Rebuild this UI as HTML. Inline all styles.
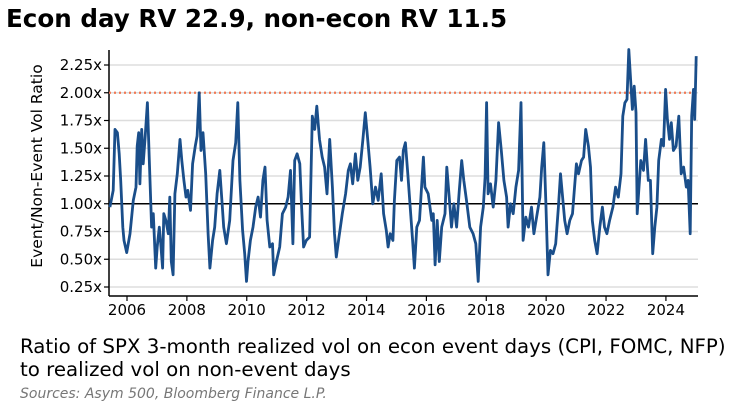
<!DOCTYPE html>
<html><head><meta charset="utf-8"><style>
body{margin:0;background:#fff;width:745px;height:409px;overflow:hidden;font-family:"Liberation Sans","DejaVu Sans",sans-serif}
</style></head><body>
<svg width="745" height="409" style="position:absolute;left:0;top:0">
<text x="6" y="27" font-size="24.6" font-weight="bold" fill="#000" font-family="DejaVu Sans, sans-serif">Econ day RV 22.9, non-econ RV 11.5</text>
<g id="grid"></g><g id="yax"></g><g id="xax"></g><g id="ref"></g><g id="series"></g>
<text transform="translate(42,166) rotate(-90)" text-anchor="middle" font-size="15.5" font-family="DejaVu Sans, sans-serif">Event/Non-Event Vol Ratio</text>
<text x="20" y="353" font-size="19.8" font-family="DejaVu Sans, sans-serif">Ratio of SPX 3-month realized vol on econ event days (CPI, FOMC, NFP)</text>
<text x="20" y="376" font-size="19.8" font-family="DejaVu Sans, sans-serif">to realized vol on non-event days</text>
<text x="20" y="398" font-size="14" font-style="italic" fill="#777" font-family="DejaVu Sans, sans-serif">Sources: Asym 500, Bloomberg Finance L.P.</text>
</svg>
<script>
const yTicks=[0.25,0.5,0.75,1.0,1.25,1.5,1.75,2.0,2.25];
const yTickLabels=["0.25x","0.50x","0.75x","1.00x","1.25x","1.50x","1.75x","2.00x","2.25x"];
const xTicks=[2006,2008,2010,2012,2014,2016,2018,2020,2022,2024];
const refLevel=1.0;
const thresholdLevel=2.0;
const dates=[2005.43,2005.54,2005.60,2005.68,2005.74,2005.79,2005.86,2005.90,2005.99,2006.10,2006.21,2006.30,2006.34,2006.39,2006.43,2006.49,2006.54,2006.60,2006.68,2006.74,2006.82,2006.88,2006.96,2007.01,2007.08,2007.12,2007.19,2007.23,2007.30,2007.38,2007.43,2007.48,2007.54,2007.60,2007.68,2007.77,2007.83,2007.90,2007.97,2008.03,2008.12,2008.19,2008.28,2008.34,2008.41,2008.47,2008.54,2008.63,2008.71,2008.77,2008.86,2008.93,2009.01,2009.10,2009.17,2009.23,2009.32,2009.43,2009.54,2009.63,2009.70,2009.77,2009.86,2009.93,2009.99,2010.04,2010.12,2010.21,2010.30,2010.38,2010.46,2010.54,2010.61,2010.68,2010.77,2010.86,2010.90,2010.99,2011.10,2011.19,2011.30,2011.38,2011.46,2011.54,2011.60,2011.68,2011.77,2011.83,2011.90,2011.99,2012.10,2012.19,2012.27,2012.34,2012.43,2012.52,2012.60,2012.68,2012.77,2012.86,2012.93,2012.99,2013.08,2013.19,2013.30,2013.39,2013.46,2013.54,2013.63,2013.71,2013.79,2013.88,2013.96,2014.04,2014.12,2014.21,2014.30,2014.39,2014.49,2014.57,2014.66,2014.72,2014.79,2014.88,2014.93,2015.01,2015.10,2015.17,2015.23,2015.30,2015.38,2015.46,2015.54,2015.60,2015.68,2015.77,2015.90,2015.95,2016.06,2016.18,2016.23,2016.29,2016.36,2016.43,2016.51,2016.62,2016.68,2016.76,2016.84,2016.92,2017.01,2017.10,2017.18,2017.25,2017.34,2017.45,2017.56,2017.65,2017.73,2017.81,2017.90,2017.96,2018.01,2018.06,2018.14,2018.23,2018.32,2018.41,2018.50,2018.59,2018.68,2018.73,2018.81,2018.90,2018.99,2019.08,2019.16,2019.23,2019.32,2019.41,2019.51,2019.59,2019.68,2019.79,2019.85,2019.92,2019.99,2020.06,2020.14,2020.23,2020.32,2020.41,2020.48,2020.54,2020.62,2020.70,2020.79,2020.88,2020.94,2021.01,2021.08,2021.18,2021.25,2021.32,2021.41,2021.48,2021.54,2021.62,2021.70,2021.79,2021.88,2021.95,2022.03,2022.12,2022.23,2022.32,2022.41,2022.50,2022.56,2022.63,2022.70,2022.76,2022.82,2022.88,2022.94,2023.00,2023.04,2023.10,2023.16,2023.25,2023.32,2023.41,2023.48,2023.56,2023.63,2023.70,2023.76,2023.85,2023.92,2023.99,2024.05,2024.12,2024.18,2024.25,2024.34,2024.43,2024.51,2024.59,2024.68,2024.74,2024.81,2024.86,2024.92,2024.96,2025.01];
const ratios=[0.97,1.12,1.67,1.64,1.45,1.21,0.79,0.67,0.56,0.73,1.03,1.15,1.52,1.64,1.18,1.67,1.36,1.58,1.91,1.42,0.79,0.91,0.42,0.61,0.79,0.67,0.42,0.91,0.85,0.73,1.06,0.48,0.36,1.09,1.27,1.58,1.39,1.21,1.06,1.12,0.94,1.36,1.52,1.61,2.0,1.48,1.64,1.27,0.73,0.42,0.67,0.79,1.09,1.30,1.03,0.79,0.64,0.85,1.39,1.55,1.91,1.21,0.76,0.55,0.30,0.48,0.67,0.79,0.97,1.06,0.88,1.21,1.33,0.85,0.61,0.64,0.36,0.48,0.61,0.91,0.97,1.06,1.30,0.64,1.39,1.45,1.36,0.97,0.61,0.67,0.70,1.79,1.67,1.88,1.58,1.42,1.33,1.09,1.58,1.15,0.73,0.52,0.70,0.91,1.09,1.30,1.36,1.18,1.45,1.21,1.33,1.58,1.82,1.58,1.33,1.0,1.15,1.03,1.27,0.91,0.76,0.61,0.73,0.67,1.03,1.39,1.42,1.21,1.48,1.55,1.27,0.97,0.67,0.42,0.79,0.85,1.42,1.15,1.09,0.85,0.91,0.45,0.85,0.48,0.79,0.91,1.33,1.06,0.79,1.0,0.79,1.12,1.39,1.21,1.03,0.79,0.73,0.64,0.30,0.79,0.97,1.24,1.91,1.09,1.18,0.97,1.21,1.73,1.48,1.21,1.06,0.79,1.0,0.91,1.15,1.30,1.91,0.67,0.88,0.79,0.97,0.73,0.88,1.06,1.33,1.55,1.0,0.36,0.58,0.55,0.64,0.97,1.27,1.09,0.85,0.73,0.85,0.91,1.12,1.36,1.27,1.39,1.42,1.67,1.52,1.33,0.85,0.67,0.55,0.79,0.97,0.79,0.73,0.85,0.97,1.15,1.06,1.27,1.79,1.91,1.94,2.39,2.12,1.85,2.06,1.82,0.91,1.15,1.39,1.30,1.58,1.21,1.21,0.55,0.79,0.97,1.39,1.58,1.52,2.03,1.76,1.58,1.73,1.48,1.52,1.79,1.27,1.33,1.15,1.21,0.73,1.79,2.03,1.76,2.33];
const L=109,R=698,T=50,B=296;
const x=v=>127+(v-2006)*29.94;
const y=v=>203.75-(v-1)*111;
const NS="http://www.w3.org/2000/svg";
function mk(tag,parent,attrs){const e=document.createElementNS(NS,tag);for(const k in attrs)e.setAttribute(k,attrs[k]);parent.appendChild(e);return e;}
const grid=document.getElementById('grid'),yax=document.getElementById('yax'),xax=document.getElementById('xax'),ref=document.getElementById('ref'),ser=document.getElementById('series');
yTicks.forEach((t,i)=>{
 const g=mk('line',grid,{x1:L,x2:R,y1:y(t),y2:y(t),stroke:'#ddd','stroke-width':1.5});
 
 
 const tk=mk('line',yax,{x1:L-5,x2:L,y1:y(t),y2:y(t),stroke:'#000','stroke-width':1.2});
 
 
 const lb=mk('text',yax,{x:L-7,y:y(t)+5,'text-anchor':'end','font-size':15,'font-family':'DejaVu Sans, sans-serif'});
 lb.textContent=yTickLabels[i];
 
 
});
const ya=mk('line',yax,{x1:L,x2:L,y1:T,y2:B,stroke:'#000','stroke-width':1.5});


const xa=mk('line',xax,{x1:L,x2:R,y1:B,y2:B,stroke:'#000','stroke-width':1.5});


xTicks.forEach(t=>{
 const tk=mk('line',xax,{x1:x(t),x2:x(t),y1:B,y2:B+5,stroke:'#000','stroke-width':1.2});
 
 
 const lb=mk('text',xax,{x:x(t),y:B+19,'text-anchor':'middle','font-size':15,'font-family':'DejaVu Sans, sans-serif'});
 lb.textContent=String(t);
 
 
});
const r1=mk('line',ref,{x1:L,x2:R,y1:y(refLevel),y2:y(refLevel),stroke:'#000','stroke-width':1.6});


const r2=mk('line',ref,{x1:L,x2:R,y1:y(thresholdLevel),y2:y(thresholdLevel),stroke:'#f07a55','stroke-width':2.2,'stroke-dasharray':'2 3'});


const pts=dates.map((d,i)=>x(d).toFixed(1)+','+y(ratios[i]).toFixed(1)).join(' ');
const pl=mk('polyline',ser,{points:pts,fill:'none',stroke:'#1a4e8a','stroke-width':2.8,'stroke-linejoin':'round'});


</script>
</body></html>
